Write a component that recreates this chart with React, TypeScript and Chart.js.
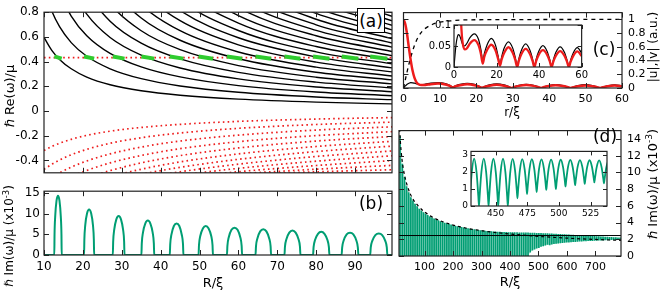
import React, { useEffect, useRef } from "react";
import { Chart, registerables } from "chart.js";

Chart.register(...registerables);
Chart.defaults.font.family = "'DejaVu Sans', sans-serif";
Chart.defaults.color = "#000";

// ---------------- panel (a): Re(omega) vs R ----------------
const aR = [10, 12, 14, 17, 21, 27, 35, 45, 60, 80, 99.5];
const aBlack: number[][] = [
  [0.596, 0.491, 0.418, 0.342, 0.275, 0.213, 0.164, 0.128, 0.096, 0.072, 0.058],
  [0.999, 0.81, 0.683, 0.554, 0.443, 0.342, 0.262, 0.203, 0.152, 0.114, 0.092],
  [1.443, 1.151, 0.959, 0.769, 0.61, 0.467, 0.357, 0.276, 0.206, 0.154, 0.124],
  [1.952, 1.531, 1.26, 0.998, 0.784, 0.595, 0.452, 0.348, 0.26, 0.194, 0.156],
  [2.53, 1.96, 1.59, 1.245, 0.967, 0.727, 0.549, 0.422, 0.313, 0.234, 0.187],
  [3.21, 2.44, 1.96, 1.516, 1.164, 0.867, 0.65, 0.497, 0.368, 0.274, 0.22],
  [3.96, 2.98, 2.37, 1.81, 1.374, 1.013, 0.753, 0.573, 0.423, 0.314, 0.252],
  [4.8, 3.58, 2.82, 2.13, 1.6, 1.166, 0.86, 0.65, 0.478, 0.355, 0.284],
  [5.75, 4.24, 3.32, 2.48, 1.844, 1.33, 0.973, 0.731, 0.536, 0.396, 0.317],
  [6.79, 4.97, 3.86, 2.86, 2.1, 1.5, 1.089, 0.814, 0.593, 0.438, 0.349],
  [7.91, 5.76, 4.45, 3.26, 2.38, 1.68, 1.209, 0.898, 0.652, 0.479, 0.382],
  [9.13, 6.61, 5.08, 3.7, 2.68, 1.87, 1.335, 0.986, 0.712, 0.522, 0.415],
  [10.44, 7.53, 5.76, 4.17, 2.99, 2.07, 1.466, 1.076, 0.773, 0.564, 0.448],
  [11.88, 8.52, 6.49, 4.67, 3.33, 2.29, 1.605, 1.17, 0.836, 0.609, 0.482],
  [13.39, 9.58, 7.27, 5.2, 3.68, 2.51, 1.749, 1.266, 0.9, 0.653, 0.517],
  [15.0, 10.7, 8.1, 5.77, 4.06, 2.75, 1.899, 1.367, 0.966, 0.698, 0.551],
  [16.7, 11.9, 8.98, 6.37, 4.46, 3.0, 2.055, 1.47, 1.033, 0.743, 0.586],
  [18.5, 13.2, 9.91, 7.01, 4.88, 3.26, 2.219, 1.577, 1.102, 0.79, 0.622],
  [20.4, 14.5, 10.9, 7.67, 5.32, 3.53, 2.388, 1.687, 1.172, 0.837, 0.657],
  [22.5, 15.9, 11.9, 8.37, 5.79, 3.82, 2.566, 1.802, 1.245, 0.886, 0.694],
  [24.6, 17.3, 13.0, 9.1, 6.27, 4.11, 2.749, 1.92, 1.319, 0.934, 0.73],
  [26.8, 18.9, 14.1, 9.87, 6.77, 4.43, 2.94, 2.042, 1.395, 0.984, 0.767],
  [29.1, 20.5, 15.3, 10.7, 7.3, 4.75, 3.137, 2.167, 1.473, 1.035, 0.805],
];
const aRed: number[][] = [
  [-0.32, -0.287, -0.261, -0.229, -0.197, -0.163, -0.133, -0.108, -0.084, -0.065, -0.053],
  [-0.472, -0.431, -0.397, -0.354, -0.31, -0.261, -0.216, -0.178, -0.14, -0.109, -0.09],
  [-0.579, -0.536, -0.5, -0.454, -0.404, -0.347, -0.292, -0.243, -0.195, -0.154, -0.128],
  [-0.654, -0.613, -0.578, -0.532, -0.481, -0.42, -0.36, -0.305, -0.248, -0.199, -0.167],
  [-0.702, -0.666, -0.633, -0.59, -0.541, -0.482, -0.42, -0.361, -0.299, -0.243, -0.206],
  [-0.734, -0.703, -0.674, -0.635, -0.59, -0.532, -0.471, -0.412, -0.347, -0.287, -0.245],
  [-0.745, -0.719, -0.694, -0.661, -0.621, -0.569, -0.512, -0.456, -0.391, -0.328, -0.284],
  [-0.743, -0.722, -0.702, -0.675, -0.641, -0.596, -0.545, -0.492, -0.43, -0.368, -0.323],
  [-0.723, -0.707, -0.692, -0.67, -0.644, -0.608, -0.565, -0.52, -0.464, -0.406, -0.362],
  [-0.688, -0.677, -0.667, -0.652, -0.632, -0.606, -0.573, -0.538, -0.491, -0.441, -0.401],
  [-0.631, -0.625, -0.619, -0.61, -0.599, -0.583, -0.563, -0.539, -0.508, -0.471, -0.44],
  [-0.567, -0.565, -0.562, -0.559, -0.554, -0.547, -0.538, -0.527, -0.512, -0.492, -0.475],
];
const aLevelR = [10, 99.5];
const aLevel = 0.433;
const humpStart = [12.65, 20.3, 27.7, 35.05, 42.35, 49.75, 57.05, 64.4, 71.85, 79.2, 86.55, 93.9];
const humpEnd = [14.55, 22.9, 30.7, 38.35, 45.85, 53.45, 60.95, 68.4, 75.95, 83.4, 90.85, 98.3];
const dashY = [0.442, 0.424];
const abXTicks = [10, 20, 30, 40, 50, 60, 70, 80, 90];
const aYTicks = [-0.4, -0.2, 0, 0.2, 0.4, 0.6, 0.8];

// ---------------- panel (b): Im(omega) vs R ----------------
const bR = [10,
  12.65, 12.71, 12.88, 13.22, 13.6, 13.98, 14.32, 14.49, 14.55,
  20.3, 20.38, 20.61, 21.08, 21.6, 22.12, 22.59, 22.82, 22.9,
  27.7, 27.79, 28.06, 28.6, 29.2, 29.8, 30.34, 30.61, 30.7,
  35.05, 35.15, 35.45, 36.04, 36.7, 37.36, 37.95, 38.25, 38.35,
  42.35, 42.46, 42.77, 43.4, 44.1, 44.8, 45.43, 45.75, 45.85,
  49.75, 49.86, 50.19, 50.86, 51.6, 52.34, 53.01, 53.34, 53.45,
  57.05, 57.17, 57.52, 58.22, 59.0, 59.78, 60.48, 60.83, 60.95,
  64.4, 64.52, 64.88, 65.6, 66.4, 67.2, 67.92, 68.28, 68.4,
  71.85, 71.97, 72.34, 73.08, 73.9, 74.72, 75.46, 75.83, 75.95,
  79.2, 79.33, 79.7, 80.46, 81.3, 82.14, 82.9, 83.27, 83.4,
  86.55, 86.68, 87.07, 87.84, 88.7, 89.56, 90.33, 90.72, 90.85,
  93.9, 94.03, 94.43, 95.22, 96.1, 96.98, 97.77, 98.17, 98.3,
  99.5];
const bIm = [0,
  0, 4.9, 9.3, 13.1, 14.3, 13.1, 9.3, 4.9, 0,
  0, 3.7, 7.2, 10.1, 11.0, 10.1, 7.2, 3.7, 0,
  0, 3.2, 6.1, 8.6, 9.4, 8.6, 6.1, 3.2, 0,
  0, 2.8, 5.4, 7.6, 8.3, 7.6, 5.4, 2.8, 0,
  0, 2.6, 4.9, 7.0, 7.6, 7.0, 4.9, 2.6, 0,
  0, 2.4, 4.6, 6.4, 7.0, 6.4, 4.6, 2.4, 0,
  0, 2.2, 4.3, 6.1, 6.6, 6.1, 4.3, 2.2, 0,
  0, 2.1, 4.0, 5.7, 6.2, 5.7, 4.0, 2.1, 0,
  0, 2.0, 3.8, 5.4, 5.9, 5.4, 3.8, 2.0, 0,
  0, 1.9, 3.6, 5.1, 5.6, 5.1, 3.6, 1.9, 0,
  0, 1.8, 3.5, 5.0, 5.4, 5.0, 3.5, 1.8, 0,
  0, 1.8, 3.4, 4.8, 5.2, 4.8, 3.4, 1.8, 0,
  0];
const bYTicks = [0, 5, 10, 15];

// ---------------- panel (c): |u|, |v| vs r ----------------
const cR = [0, 0.5, 1, 1.5, 2, 2.5, 3, 3.5, 4, 5, 6, 7.5, 9.5, 11.5, 12.7, 13.5, 14.3, 15.5, 17.5, 19.5,
  20.7, 21.6, 22.4, 23.6, 25.6, 27.6, 28.8, 29.7, 30.5, 31.7, 33.7, 35.7, 36.9, 37.8, 38.6, 39.8, 41.8, 43.8, 45.0, 45.9,
  46.7, 47.9, 49.9, 51.9, 53.1, 54.0, 54.8, 56.0, 58.0, 60];
const cV = [0, 0.03, 0.055, 0.07, 0.077, 0.076, 0.07, 0.062, 0.055, 0.05, 0.056, 0.07, 0.079, 0.066, 0.04, 0.015, 0.033, 0.052, 0.068, 0.052,
  0.027, 0.006, 0.024, 0.045, 0.06, 0.045, 0.023, 0.002, 0.02, 0.04, 0.055, 0.04, 0.02, 0, 0.018, 0.037, 0.051, 0.037, 0.018, 0,
  0.017, 0.035, 0.048, 0.035, 0.017, 0, 0.016, 0.033, 0.046, 0.033];
const cU = [1.0, 0.93, 0.78, 0.58, 0.4, 0.25, 0.15, 0.09, 0.06, 0.042, 0.044, 0.056, 0.064, 0.052, 0.03, 0.008, 0.025, 0.04, 0.053, 0.04,
  0.02, 0.003, 0.018, 0.034, 0.047, 0.034, 0.017, 0, 0.015, 0.031, 0.043, 0.031, 0.015, 0, 0.014, 0.029, 0.04, 0.029, 0.014, 0,
  0.013, 0.027, 0.038, 0.027, 0.013, 0, 0.012, 0.026, 0.037, 0.026];
const cDashR = [0, 0.5, 1, 1.5, 2, 3, 4, 5, 6, 8, 10, 13, 18, 60];
const cDash = [0, 0.12, 0.24, 0.35, 0.45, 0.62, 0.74, 0.82, 0.87, 0.93, 0.96, 0.98, 0.995, 1.0];
const cXTicks = [0, 10, 20, 30, 40, 50, 60];
const cYTicks = [0, 0.2, 0.4, 0.6, 0.8, 1];
const cInsXTicks = [0, 20, 40, 60];
const cInsYTicks = [0, 0.05, 0.1];

// ---------------- panel (d): Im(omega) vs R, large R ----------------
const dPeakR = [13.6, 21.6, 29.2, 36.7, 44.1, 51.6, 59.0, 66.4, 73.9, 81.3, 88.7, 96.1,
  103.6, 111.0, 118.5, 125.9, 133.4, 140.8, 148.3, 155.7, 163.2, 170.6, 178.1, 185.5, 193.0, 200.4, 207.9, 215.3,
  222.8, 230.2, 237.7, 245.1, 252.6, 260.0, 267.5, 274.9, 282.4, 289.8, 297.3, 304.7, 312.2, 319.6, 327.1, 334.5,
  342.0, 349.4, 356.9, 364.3, 371.8, 379.2, 386.7, 394.1, 401.6, 409.0, 416.5, 424.8,
  433.0, 440.6, 448.2, 455.8, 463.4, 471.0, 478.6, 486.2, 493.8, 501.4, 509.0, 516.6, 524.2, 531.8, 539.4,
  546.9, 554.4, 561.9, 569.4, 576.9, 584.4, 591.9, 599.4, 606.9, 614.4, 621.9, 629.4, 636.9, 644.4, 651.9, 659.4,
  666.9, 674.4, 681.9, 689.4, 696.9, 704.4, 711.9, 719.4, 726.9, 734.4, 741.9, 749.4, 756.9, 764.4, 771.9, 779.4, 786.9];
const dPeakIm = [14.3, 11.0, 9.4, 8.3, 7.6, 7.0, 6.6, 6.2, 5.9, 5.6, 5.4, 5.2,
  5.0, 4.85, 4.7, 4.57, 4.45, 4.34, 4.23, 4.13, 4.04, 3.95, 3.87, 3.79, 3.72, 3.65, 3.59, 3.53,
  3.47, 3.42, 3.37, 3.32, 3.27, 3.23, 3.19, 3.15, 3.11, 3.08, 3.05, 3.02, 2.99, 2.96, 2.94, 2.92,
  2.9, 2.88, 2.86, 2.85, 2.84, 2.83, 2.82, 2.81, 2.8, 2.8, 2.79, 2.79,
  2.78, 2.78, 2.77, 2.77, 2.76, 2.75, 2.74, 2.73, 2.72, 2.71, 2.7, 2.69, 2.68, 2.67, 2.66,
  2.65, 2.63, 2.62, 2.6, 2.59, 2.57, 2.56, 2.54, 2.53, 2.51, 2.5, 2.48, 2.47, 2.45, 2.44, 2.42,
  2.41, 2.39, 2.38, 2.36, 2.35, 2.33, 2.32, 2.3, 2.29, 2.27, 2.26, 2.24, 2.23, 2.21, 2.2, 2.18, 2.17];
const dDipIm = [0, 0, 0, 0, 0, 0, 0, 0, 0, 0, 0, 0,
  0, 0, 0, 0, 0, 0, 0, 0, 0, 0, 0, 0, 0, 0, 0, 0,
  0, 0, 0, 0, 0, 0, 0, 0, 0, 0, 0, 0, 0, 0, 0, 0,
  0, 0, 0, 0, 0, 0, 0, 0, 0, 0, 0, 0,
  0, 0, 0, 0, 0, 0.45, 0.7, 0.82, 0.94, 1.0, 1.15, 1.22, 1.3, 1.38, 1.33,
  1.42, 1.46, 1.5, 1.53, 1.56, 1.59, 1.62, 1.64, 1.66, 1.68, 1.7, 1.72, 1.74, 1.76, 1.77, 1.79,
  1.8, 1.82, 1.83, 1.84, 1.86, 1.87, 1.88, 1.89, 1.9, 1.91, 1.92, 1.93, 1.94, 1.95, 1.96, 1.97, 1.98];
const dEnvR = [12, 15, 20, 30, 50, 80, 120, 200, 300, 400, 500, 600, 700, 790];
const dEnvIm = [15.2, 13.6, 11.7, 9.6, 7.4, 5.9, 4.8, 3.7, 3.03, 2.63, 2.35, 2.14, 1.98, 1.87];
const dLineR = [10, 790];
const dLineIm = [2.45, 2.45];
const dXTicks = [100, 200, 300, 400, 500, 600, 700];
const dYTicks = [0, 2, 4, 6, 8, 10, 12, 14];
const dInsR = [429.2, 429.7, 431.1, 433.0, 434.9, 436.3,
  436.8, 437.3, 438.7, 440.6, 442.5, 443.9,
  444.4, 444.9, 446.3, 448.2, 450.1, 451.5,
  452.0, 452.5, 453.9, 455.8, 457.7, 459.1,
  459.6, 460.1, 461.5, 463.4, 465.3, 466.7,
  467.2, 467.7, 469.1, 471.0, 472.9, 474.3,
  474.8, 475.3, 476.7, 478.6, 480.5, 481.9,
  482.4, 482.9, 484.3, 486.2, 488.1, 489.5,
  490.0, 490.5, 491.9, 493.8, 495.7, 497.1,
  497.6, 498.1, 499.5, 501.4, 503.3, 504.7,
  505.2, 505.7, 507.1, 509.0, 510.9, 512.3,
  512.8, 513.3, 514.7, 516.6, 518.5, 519.9,
  520.4, 520.9, 522.3, 524.2, 526.1, 527.5,
  528.0, 528.5, 529.9, 531.8, 533.7, 535.1,
  535.6, 536.1, 537.5, 539.4, 541.3, 542.7,
  543.2];
const dInsIm = [0, 0.56, 1.97, 2.78, 1.97, 0.56,
  0, 0.56, 1.97, 2.78, 1.97, 0.56,
  0, 0.55, 1.97, 2.77, 1.97, 0.55,
  0, 0.55, 1.97, 2.77, 1.97, 0.55,
  0, 0.55, 1.96, 2.76, 2.09, 0.91,
  0.45, 0.91, 2.08, 2.75, 2.16, 1.11,
  0.7, 1.11, 2.15, 2.74, 2.18, 1.2,
  0.82, 1.2, 2.18, 2.73, 2.21, 1.3,
  0.94, 1.3, 2.2, 2.72, 2.22, 1.34,
  1.0, 1.34, 2.21, 2.71, 2.26, 1.46,
  1.15, 1.46, 2.25, 2.7, 2.27, 1.52,
  1.22, 1.51, 2.26, 2.69, 2.29, 1.58,
  1.3, 1.58, 2.28, 2.68, 2.3, 1.64,
  1.38, 1.64, 2.29, 2.67, 2.28, 1.6,
  1.33, 1.6, 2.27, 2.66, 2.3, 1.67,
  1.42];
const dInsXTicks = [450, 475, 500, 525];
const dInsYTicks = [0, 1, 2, 3];

// ---------------- styling ----------------
const GREEN = "#009e73";
const LIME = "#2fcc2f";
const RED = "#ee1c1c";
const FRAME = "#222";

const pts = (xs: number[], ys: number[]) => xs.map((x, i) => ({ x, y: ys[i] }));

const framePlugin = {
  id: "frame",
  beforeDraw(chart: any, _a: any, o: any) {
    if (!o || !o.fillArea) return;
    const { ctx, chartArea: a } = chart;
    ctx.save();
    ctx.fillStyle = "#fff";
    ctx.fillRect(a.left, a.top, a.width, a.height);
    ctx.restore();
  },
  afterDraw(chart: any, _a: any, o: any) {
    const { ctx, chartArea: a, scales } = chart;
    const L = (o && o.tick) || 5;
    ctx.save();
    ctx.strokeStyle = FRAME;
    ctx.lineWidth = 1;
    ["x", "y"].forEach((id) => {
      const s = scales[id];
      if (!s) return;
      s.ticks.forEach((t: any) => {
        const p = Math.round(s.getPixelForValue(t.value)) + 0.5;
        ctx.beginPath();
        if (id === "x") {
          ctx.moveTo(p, a.bottom); ctx.lineTo(p, a.bottom - L);
          ctx.moveTo(p, a.top); ctx.lineTo(p, a.top + L);
        } else {
          ctx.moveTo(a.left, p); ctx.lineTo(a.left + L, p);
          ctx.moveTo(a.right, p); ctx.lineTo(a.right - L, p);
        }
        ctx.stroke();
      });
    });
    ctx.lineWidth = 1.2;
    ctx.strokeRect(a.left, a.top, a.width, a.height);
    ctx.restore();
  },
};

function axis(min: number, max: number, ticks: number[], o: any) {
  return {
    type: "linear",
    min, max,
    position: o.pos,
    offset: false,
    grid: { display: false, drawTicks: false },
    border: { display: false },
    afterBuildTicks: (s: any) => { s.ticks = ticks.map((v) => ({ value: v })); },
    afterFit: (s: any) => {
      if (o.h !== undefined) s.height = o.h;
      if (o.w !== undefined) s.width = o.w;
    },
    ticks: {
      display: o.show !== false,
      autoSkip: false, maxRotation: 0, minRotation: 0,
      padding: o.pad ?? 4,
      font: { size: o.font ?? 11 },
      color: "#000",
      callback: (v: any) => String(v),
    },
  };
}

function baseOptions(padding: any, x: any, y: any, frame: any) {
  return {
    animation: false,
    responsive: false,
    events: [],
    layout: { padding },
    plugins: { legend: { display: false }, tooltip: { enabled: false }, frame },
    elements: { point: { radius: 0 }, line: { capBezierPoints: false } },
    scales: { x, y },
  };
}

const line = (data: any[], extra: any) => ({
  type: "line", data, pointRadius: 0, fill: false, clip: 0,
  cubicInterpolationMode: "monotone", ...extra,
});

const makeA = () => ({
  type: "line",
  data: {
    datasets: [
      ...humpStart.map((s, i) => line([{ x: s, y: dashY[0] }, { x: humpEnd[i], y: dashY[1] }],
        { borderColor: LIME, borderWidth: 4, borderCapStyle: "butt", order: 0, cubicInterpolationMode: "default" })),
      line(aLevelR.map((r) => ({ x: r, y: aLevel })), { borderColor: RED, borderWidth: 1.7, borderDash: [1.6, 3.2], order: 1 }),
      ...aBlack.map((c) => line(pts(aR, c), { borderColor: "#000", borderWidth: 1.4, order: 2 })),
      ...aRed.map((c) => line(pts(aR, c), { borderColor: RED, borderWidth: 1.7, borderDash: [1.6, 3.2], order: 2 })),
    ],
  },
  options: baseOptions({ top: 5, right: 8, left: 0, bottom: 0 },
    axis(10, 99.5, abXTicks, { h: 8, show: false }),
    axis(-0.5, 0.8, aYTicks, { w: 44, pad: 5, font: 12 }),
    { tick: 5 }),
  plugins: [framePlugin],
});

const makeB = () => ({
  type: "line",
  data: { datasets: [line(pts(bR, bIm), { borderColor: GREEN, borderWidth: 2 })] },
  options: baseOptions({ top: 7, right: 8, left: 0, bottom: 0 },
    axis(10, 99.5, abXTicks, { h: 35, pad: 5, font: 12 }),
    axis(0, 15.4, bYTicks, { w: 44, pad: 4, font: 12 }),
    { tick: 5 }),
  plugins: [framePlugin],
});

const makeC = () => ({
  type: "line",
  data: {
    datasets: [
      line(pts(cR, cU), { borderColor: RED, borderWidth: 2.5, order: 0 }),
      line(pts(cR, cV), { borderColor: "#000", borderWidth: 1.2, order: 1 }),
      line(pts(cDashR, cDash), { borderColor: "#000", borderWidth: 1.3, borderDash: [4, 4], order: 2 }),
    ],
  },
  options: baseOptions({ top: 4, left: 5, right: 0, bottom: 0 },
    axis(0, 60, cXTicks, { h: 32, pad: 5, font: 11 }),
    axis(0, 1.1, cYTicks, { w: 42, pos: "right", pad: 6, font: 11 }),
    { tick: 5 }),
  plugins: [framePlugin],
});

const makeCInset = () => ({
  type: "line",
  data: {
    datasets: [
      line(pts(cR, cU), { borderColor: RED, borderWidth: 2.3, order: 0 }),
      line(pts(cR, cV), { borderColor: "#000", borderWidth: 1.2, order: 1 }),
    ],
  },
  options: baseOptions({ top: 8, right: 6, left: 0, bottom: 0 },
    axis(0, 60, cInsXTicks, { h: 13, pad: 2, font: 10 }),
    axis(0, 0.1, cInsYTicks, { w: 34, pad: 3, font: 10 }),
    { tick: 4, fillArea: true }),
  plugins: [framePlugin],
});

const makeD = () => ({
  type: "bar",
  data: {
    datasets: [
      line(pts(dPeakR, dPeakIm), { borderWidth: 0, borderColor: "rgba(0,0,0,0)", order: 4, cubicInterpolationMode: "default" }),
      line(pts(dPeakR, dDipIm), { borderWidth: 0, borderColor: "rgba(0,0,0,0)", order: 3, fill: "-1",
        backgroundColor: "rgba(0,158,115,0.3)", cubicInterpolationMode: "default" }),
      {
        type: "bar",
        data: dPeakR.map((r, i) => ({ x: r, y: [dDipIm[i], dPeakIm[i]] })),
        backgroundColor: GREEN, borderWidth: 0, barThickness: 1, order: 2, grouped: false,
      },
      line(pts(dEnvR, dEnvIm), { borderColor: "#000", borderWidth: 1.2, borderDash: [3, 3], order: 1 }),
      line(pts(dLineR, dLineIm), { borderColor: "#000", borderWidth: 1, order: 0, cubicInterpolationMode: "default" }),
    ],
  },
  options: baseOptions({ top: 4, left: 4, right: 0, bottom: 0 },
    axis(10, 790, dXTicks, { h: 34, pad: 5, font: 11 }),
    axis(0, 15, dYTicks, { w: 43, pos: "right", pad: 6, font: 11 }),
    { tick: 5 }),
  plugins: [framePlugin],
});

const makeDInset = () => ({
  type: "line",
  data: { datasets: [line(pts(dInsR, dInsIm), { borderColor: GREEN, borderWidth: 1.8 })] },
  options: baseOptions({ top: 8, right: 5, left: 0, bottom: 0 },
    axis(430.5, 538, dInsXTicks, { h: 22, pad: 2, font: 9 }),
    axis(0, 3.2, dInsYTicks, { w: 33, pad: 3, font: 9 }),
    { tick: 4, fillArea: true }),
  plugins: [framePlugin],
});

function ChartBox({ left, top, width, height, make }: any) {
  const ref = useRef<HTMLCanvasElement>(null);
  useEffect(() => {
    const chart = new Chart(ref.current as HTMLCanvasElement, make());
    return () => chart.destroy();
  }, []);
  return <canvas ref={ref} width={width} height={height}
    style={{ position: "absolute", left, top, width, height }} />;
}

const FONT = "'DejaVu Sans', sans-serif";
function Txt({ x, y, size = 12, rot = false, children }: any) {
  return (
    <div style={{
      position: "absolute", left: x, top: y, fontFamily: FONT, fontSize: size, lineHeight: 1,
      whiteSpace: "nowrap", color: "#000",
      transform: `translate(-50%, -50%)${rot ? " rotate(-90deg)" : ""}`,
    }}>{children}</div>
  );
}
const Sup = ({ children }: any) => (
  <span style={{ fontSize: "0.7em", position: "relative", top: "-0.5em" }}>{children}</span>
);

export default function App() {
  return (
    <div style={{ position: "fixed", left: 0, top: 0, width: 664, height: 290, background: "#fff", overflow: "hidden" }}>
      <ChartBox left={0} top={0} width={400} height={185} make={makeA} />
      <ChartBox left={0} top={180} width={400} height={110} make={makeB} />
      <ChartBox left={395} top={0} width={269} height={120} make={makeC} />
      <ChartBox left={395} top={118} width={269} height={172} make={makeD} />
      <ChartBox left={420} top={16} width={170} height={64} make={makeCInset} />
      <ChartBox left={438} top={143} width={174} height={85} make={makeDInset} />

      <Txt x={9} y={96} size={13} rot>ℏ Re(ω)/μ</Txt>
      <Txt x={9} y={236} size={12} rot>ℏ Im(ω)/μ (x10<Sup>-3</Sup>)</Txt>
      <Txt x={213} y={282} size={13}>R/ξ</Txt>
      <Txt x={512} y={112} size={12}>r/ξ</Txt>
      <Txt x={510} y={281} size={13}>R/ξ</Txt>
      <Txt x={653} y={47} size={12} rot>|u|,|v| (a.u.)</Txt>
      <Txt x={653} y={184} size={13} rot>ℏ Im(ω)/μ (x10<Sup>-3</Sup>)</Txt>

      <div style={{
        position: "absolute", left: 357, top: 8, width: 28, height: 25, boxSizing: "border-box",
        border: "1px solid #000", background: "#fff", fontFamily: FONT, fontSize: 17,
        display: "flex", alignItems: "center", justifyContent: "center",
      }}>(a)</div>
      <Txt x={371} y={203} size={17}>(b)</Txt>
      <Txt x={604} y={49} size={17}>(c)</Txt>
      <Txt x={605} y={136} size={17}>(d)</Txt>
    </div>
  );
}
